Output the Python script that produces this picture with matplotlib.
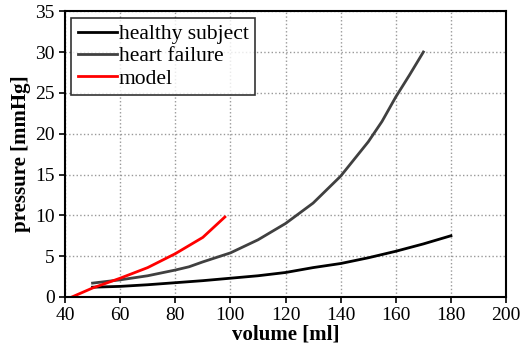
import matplotlib.pyplot as plt

# End-diastolic pressure-volume curves
healthy_v = [50, 60, 70, 80, 90, 100, 110, 120, 130, 140, 150, 160, 170, 180]
healthy_p = [1.2, 1.3, 1.5, 1.75, 2.0, 2.3, 2.6, 3.0, 3.6, 4.1, 4.8, 5.6, 6.5, 7.5]

failure_v = [50, 60, 70, 80, 85, 90, 100, 110, 120, 130, 140, 150, 155, 160, 165, 170]
failure_p = [1.7, 2.1, 2.6, 3.3, 3.7, 4.3, 5.4, 7.0, 9.0, 11.5, 14.8, 19.0, 21.5, 24.5, 27.2, 30.0]

model_v = [42.5, 50, 60, 70, 80, 90, 98]
model_p = [0.0, 1.1, 2.3, 3.6, 5.3, 7.3, 9.8]

plt.rcParams['font.family'] = ['Liberation Serif', 'DejaVu Serif']

fig = plt.figure(figsize=(5.22, 3.49), dpi=100)
ax = fig.add_axes([0.1245, 0.149, 0.845, 0.819])

ax.plot(healthy_v, healthy_p, color='black', lw=2, label='healthy subject')
ax.plot(failure_v, failure_p, color='#404040', lw=2, label='heart failure')
ax.plot(model_v, model_p, color='red', lw=2, label='model')

ax.set_xlim(40, 200)
ax.set_ylim(0, 35)
ax.set_xticks(range(40, 201, 20))
ax.set_yticks(range(0, 36, 5))
ax.grid(True, color='#999999', linestyle=':', linewidth=1)
ax.tick_params(direction='out', labelsize=14, length=4, width=1.2)
for s in ax.spines.values():
    s.set_linewidth(1.5)

ax.set_xlabel('volume [ml]', fontsize=15, fontweight='bold', labelpad=0)
ax.set_ylabel('pressure [mmHg]', fontsize=15, fontweight='bold', labelpad=3)

leg = ax.legend(loc='upper left', fontsize=15.5, frameon=True, fancybox=False,
                edgecolor='black', handlelength=1.8, handletextpad=0.1,
                labelspacing=0.1, borderpad=0.3, borderaxespad=0.3)
leg.get_frame().set_linewidth(1.2)

fig.savefig('out.png', dpi=100)
